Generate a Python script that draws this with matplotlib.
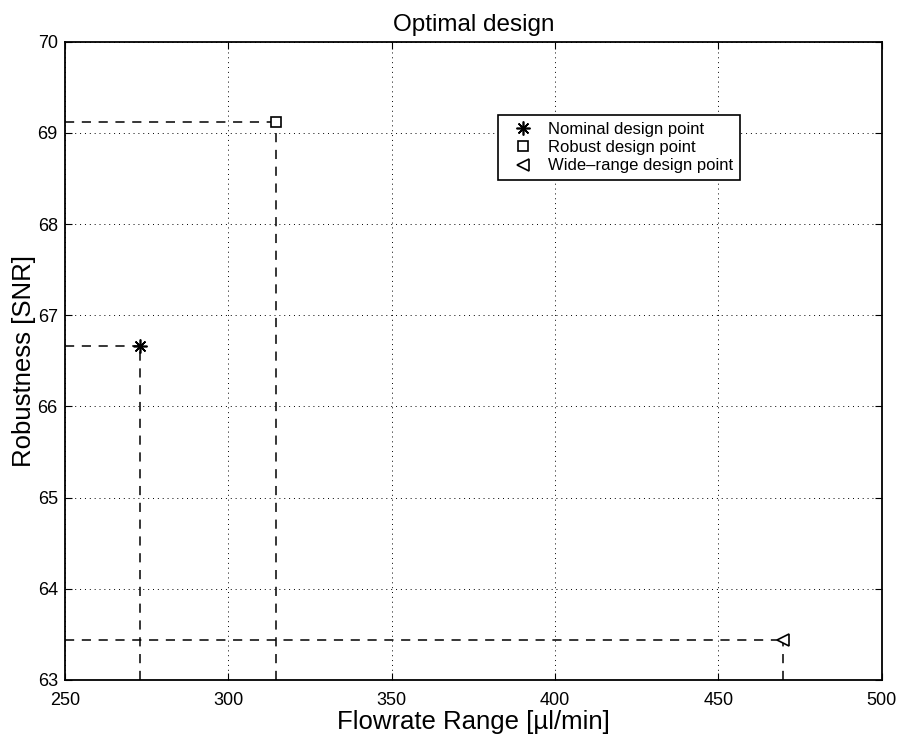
import numpy as np
import matplotlib
matplotlib.use("Agg")
import matplotlib.pyplot as plt

plt.rcParams['font.family'] = ['Liberation Sans', 'DejaVu Sans']

# design points
labels = ['Nominal design point', 'Robust design point', 'Wide\u2013range design point']
flowrate = [273.0, 314.6, 469.7]
snr = [66.66, 69.12, 63.44]
markers = [(8, 2, 0), 's', '<']
msizes = [10, 7, 8]

xticks = [250, 300, 350, 400, 450, 500]
yticks = [63, 64, 65, 66, 67, 68, 69, 70]

fig = plt.figure(figsize=(8.99, 7.39), dpi=100)
ax = fig.add_axes([0.072, 0.080, 0.909, 0.8636])

ax.set_xlim(250, 500)
ax.set_ylim(63, 70)

# dashed guides from each point back to the axes
for x, y in zip(flowrate, snr):
    ax.plot([250, x], [y, y], color='black', linestyle=(0, (6, 5)), linewidth=1.1)
    ax.plot([x, x], [63, y], color='black', linestyle=(0, (6, 5)), linewidth=1.1)

handles = []
for x, y, m, s, lab in zip(flowrate, snr, markers, msizes, labels):
    h, = ax.plot([x], [y], linestyle='none', marker=m, markersize=s,
                 markerfacecolor='white' if m != markers[0] else 'black',
                 markeredgecolor='black', markeredgewidth=1.2, label=lab)
    handles.append(h)

ax.set_xticks(xticks)
ax.set_yticks(yticks)
ax.tick_params(direction='in', top=True, right=True, labelsize=13, length=5)
ax.tick_params(axis='x', pad=8.5)
ax.tick_params(axis='y', pad=5)
ax.grid(True, color='black', linestyle=(0, (1, 4)), linewidth=0.7)
for sp in ax.spines.values():
    sp.set_linewidth(1.3)

ax.set_xlabel('Flowrate Range [\u00b5l/min]', fontsize=18.5, labelpad=1)
ax.set_ylabel('Robustness [SNR]', fontsize=18.5, labelpad=1)
ax.set_title('Optimal design', fontsize=17.5, pad=8)

leg = ax.legend(handles=handles, loc='upper left', bbox_to_anchor=(0.530, 0.885),
                fancybox=False, edgecolor='black', framealpha=1, fontsize=12,
                handlelength=2.2, handletextpad=0.4, borderpad=0.4,
                labelspacing=0.2, borderaxespad=0)
leg.get_frame().set_linewidth(1.2)

fig.savefig('out.png', dpi=100)
